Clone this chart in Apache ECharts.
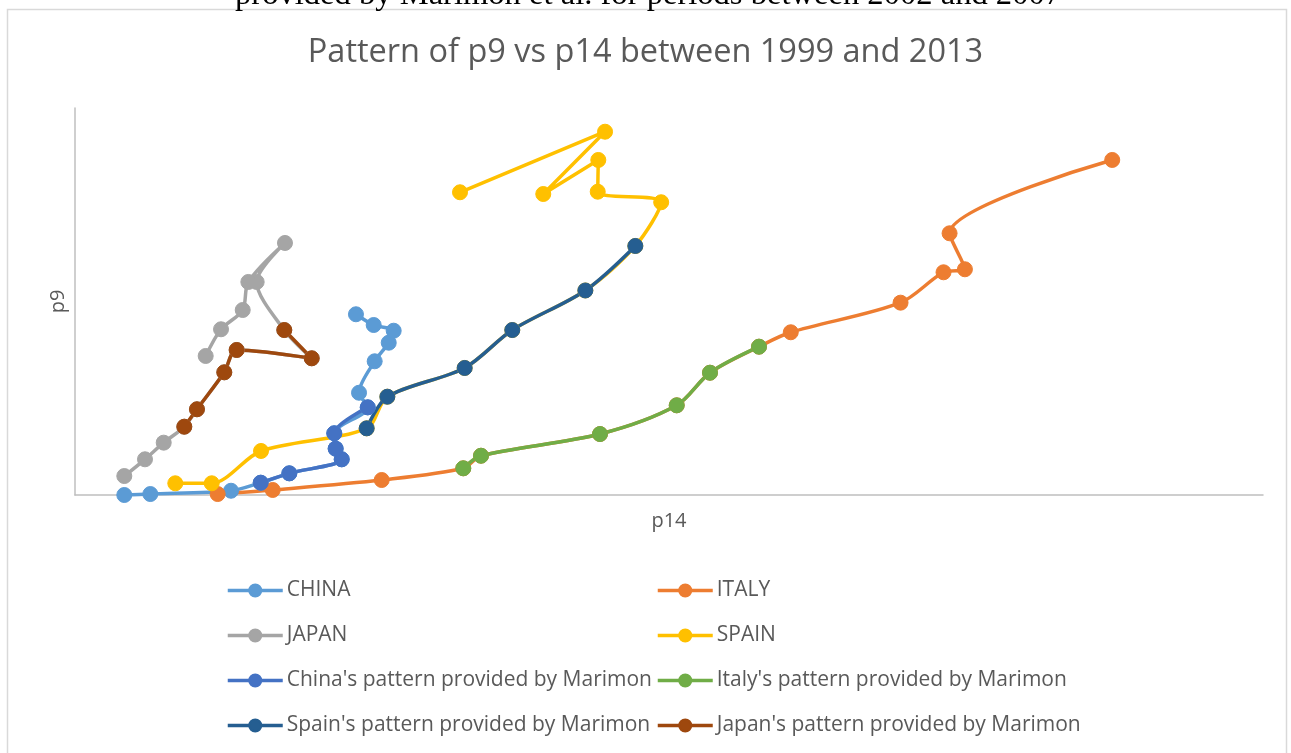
<!DOCTYPE html>
<html>
<head>
<meta charset="utf-8">
<title>Pattern of p9 vs p14 between 1999 and 2013</title>
<script src="https://cdn.jsdelivr.net/npm/echarts@6/dist/echarts.min.js"></script>
<style>
  html, body { margin: 0; padding: 0; background: #ffffff; }
  #chart { width: 1291px; height: 753px; }
</style>
</head>
<body>
<div id="chart"></div>
<script>
// p14 (x) and p9 (y) by country, yearly 1999-2013
const chinaP14 = [0.498, 0.761, 1.576, 1.876, 2.165, 2.694, 2.633, 2.619, 2.957, 2.869, 3.027, 3.169, 3.219, 3.017, 2.838];
const chinaP9  = [0.000, 0.010, 0.044, 0.127, 0.224, 0.369, 0.479, 0.638, 0.906, 1.057, 1.382, 1.574, 1.698, 1.757, 1.868];

const italyP14 = [1.441, 1.997, 3.098, 3.922, 4.101, 5.303, 6.078, 6.414, 6.909, 7.230, 8.339, 8.773, 8.989, 8.834, 10.477];
const italyP9  = [0.010, 0.052, 0.155, 0.276, 0.406, 0.630, 0.927, 1.264, 1.533, 1.682, 1.988, 2.302, 2.333, 2.705, 3.463];

const japanP14 = [0.498, 0.707, 0.896, 1.104, 1.232, 1.508, 1.633, 2.391, 2.114, 1.835, 2.121, 1.751, 1.694, 1.475, 1.320];
const japanP9  = [0.196, 0.369, 0.541, 0.706, 0.886, 1.268, 1.499, 1.413, 1.705, 2.202, 2.605, 2.202, 1.912, 1.713, 1.437];

const spainP14 = [1.013, 1.381, 1.879, 2.946, 3.155, 3.936, 4.417, 5.155, 5.660, 5.921, 5.280, 5.286, 4.730, 5.354, 3.889];
const spainP9  = [0.121, 0.121, 0.455, 0.689, 1.016, 1.313, 1.705, 2.114, 2.574, 3.026, 3.135, 3.463, 3.111, 3.755, 3.129];

// Patterns provided by Marimon, 2002-2007
const chinaMarimonP14 = [1.876, 2.165, 2.694, 2.633, 2.619, 2.957];
const chinaMarimonP9  = [0.127, 0.224, 0.369, 0.479, 0.638, 0.906];

const italyMarimonP14 = [3.922, 4.101, 5.303, 6.078, 6.414, 6.909];
const italyMarimonP9  = [0.276, 0.406, 0.630, 0.927, 1.264, 1.533];

const spainMarimonP14 = [2.946, 3.155, 3.936, 4.417, 5.155, 5.660];
const spainMarimonP9  = [0.689, 1.016, 1.313, 1.705, 2.114, 2.574];

const japanMarimonP14 = [1.104, 1.232, 1.508, 1.633, 2.391, 2.114];
const japanMarimonP9  = [0.706, 0.886, 1.268, 1.499, 1.413, 1.705];

const seriesDefs = [
  { name: 'CHINA', x: chinaP14, y: chinaP9, color: '#5B9BD5' },
  { name: 'ITALY', x: italyP14, y: italyP9, color: '#ED7D31' },
  { name: 'JAPAN', x: japanP14, y: japanP9, color: '#A5A5A5' },
  { name: 'SPAIN', x: spainP14, y: spainP9, color: '#FFC000' },
  { name: "China's pattern provided by Marimon", x: chinaMarimonP14, y: chinaMarimonP9, color: '#4472C4' },
  { name: "Italy's pattern provided by Marimon", x: italyMarimonP14, y: italyMarimonP9, color: '#70AD47' },
  { name: "Spain's pattern provided by Marimon", x: spainMarimonP14, y: spainMarimonP9, color: '#255E91' },
  { name: "Japan's pattern provided by Marimon", x: japanMarimonP14, y: japanMarimonP9, color: '#9E480E' }
];

const leftColumn = ['CHINA', 'JAPAN', "China's pattern provided by Marimon", "Spain's pattern provided by Marimon"];
const rightColumn = ['ITALY', 'SPAIN', "Italy's pattern provided by Marimon", "Japan's pattern provided by Marimon"];

const chart = echarts.init(document.getElementById('chart'), null, { renderer: 'canvas' });

const textColor = '#595959';
const uiFont = '"Open Sans", "Noto Sans", sans-serif';

const legendBase = {
  orient: 'vertical',
  top: 580,
  padding: 0,
  itemWidth: 55,
  itemHeight: 15,
  itemGap: 24,
  lineStyle: { width: 3.5 },
  textStyle: { color: textColor, fontSize: 21, fontFamily: uiFont, lineHeight: 20, padding: [0, 0, 0, -1] },
  selectedMode: false
};

const option = {
  backgroundColor: '#ffffff',
  animation: false,
  title: {
    text: 'Pattern of p9 vs p14 between 1999 and 2013',
    left: 'center',
    top: 31,
    padding: [5, 5, 5, 13],
    textStyle: { color: textColor, fontSize: 32.5, fontWeight: 'normal', fontFamily: uiFont }
  },
  graphic: [
    {
      type: 'rect',
      shape: { x: 7.5, y: 9.5, width: 1279, height: 760 },
      style: { fill: 'none', stroke: '#D9D9D9', lineWidth: 1.5 },
      silent: true
    },
    {
      type: 'text',
      x: 648,
      y: 12,
      style: {
        text: 'provided by Marimon et al. for periods between 2002 and 2007',
        font: '32.6px "Liberation Serif", "Times New Roman", serif',
        fill: '#000000',
        textAlign: 'center',
        textVerticalAlign: 'bottom'
      },
      silent: true
    }
  ],
  legend: [
    Object.assign({ left: 226, data: leftColumn }, legendBase),
    Object.assign({ left: 656, data: rightColumn }, legendBase)
  ],
  grid: { left: 75, right: 28, top: 108, bottom: 258, containLabel: false },
  xAxis: {
    type: 'value',
    min: 0,
    max: 12,
    name: 'p14',
    nameLocation: 'middle',
    nameGap: 16,
    nameTextStyle: { color: textColor, fontSize: 20, fontFamily: uiFont },
    axisLine: { show: true, lineStyle: { color: '#BFBFBF', width: 1.5 } },
    axisTick: { show: false },
    axisLabel: { show: false },
    splitLine: { show: false }
  },
  yAxis: {
    type: 'value',
    min: 0,
    max: 4,
    name: 'p9',
    nameLocation: 'middle',
    nameGap: 7,
    nameTextStyle: { color: textColor, fontSize: 20, fontFamily: uiFont },
    axisLine: { show: true, lineStyle: { color: '#BFBFBF', width: 1.5 } },
    axisTick: { show: false },
    axisLabel: { show: false },
    splitLine: { show: false }
  },
  series: seriesDefs.map(function (d) {
    return {
      name: d.name,
      type: 'line',
      data: d.x.map(function (v, i) { return [v, d.y[i]]; }),
      smooth: 0.3,
      symbol: 'circle',
      symbolSize: 15,
      showSymbol: true,
      clip: false,
      itemStyle: { color: d.color, borderColor: d.color, borderWidth: 1 },
      lineStyle: { color: d.color, width: 3.5 },
      emphasis: { disabled: true }
    };
  })
};

chart.setOption(option);
</script>
</body>
</html>
